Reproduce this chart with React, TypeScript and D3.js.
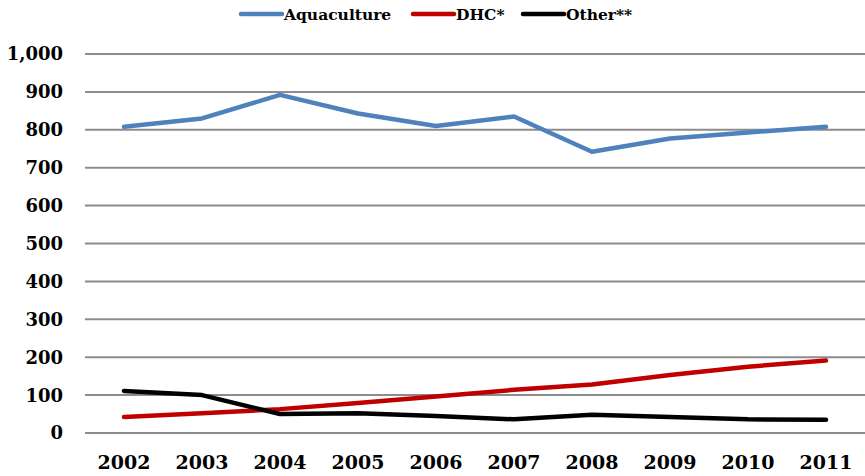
import React from "react";
import * as d3 from "d3";

const years = ["2002","2003","2004","2005","2006","2007","2008","2009","2010","2011"];
const aquaculture = [808, 830, 892, 843, 810, 835, 742, 777, 793, 808];
const dhc = [42, 52, 63, 79, 96, 114, 128, 153, 175, 191];
const other = [111, 100, 50, 52, 45, 36, 48, 42, 36, 35];
const yTicks = [0, 100, 200, 300, 400, 500, 600, 700, 800, 900, 1000];

const seriesNames = ["Aquaculture", "DHC*", "Other**"];
const seriesColors = ["#4F81BD", "#C00000", "#000000"];

const W = 865, H = 476;
const left = 85, right = 865, top = 54, bottom = 433;
const fontFamily = "'DejaVu Serif', serif";

export default function App() {
  const x = d3.scaleBand().domain(years).range([left, right]);
  const y = d3.scaleLinear().domain([0, 1000]).range([bottom, top]);
  const fmt = d3.format(",");
  const line = d3.line<number>()
    .x((_, i) => (x(years[i]) as number) + x.bandwidth() / 2)
    .y((d) => y(d));
  const data = [aquaculture, dhc, other];
  const legendX = [241, 413, 523];

  return (
    <svg width={W} height={H} style={{ position: "absolute", left: 0, top: 0, background: "#fff" }}>
      {yTicks.map((t) => (
        <g key={t}>
          <line x1={left} x2={right} y1={y(t)} y2={y(t)} stroke="#8c8c8c" strokeWidth={2} />
          <text x={63} y={y(t)} dy="0.36em" textAnchor="end" fontFamily={fontFamily}
            fontWeight="bold" fontSize={18} fill="#000">{fmt(t)}</text>
        </g>
      ))}
      {years.map((yr) => (
        <text key={yr} x={(x(yr) as number) + x.bandwidth() / 2} y={462} dy="0.36em"
          textAnchor="middle" fontFamily={fontFamily} fontWeight="bold" fontSize={19} fill="#000">{yr}</text>
      ))}
      {data.map((d, i) => (
        <path key={i} d={line(d) || ""} fill="none" stroke={seriesColors[i]} strokeWidth={4.5}
          strokeLinejoin="round" strokeLinecap="round" />
      ))}
      {seriesNames.map((n, i) => (
        <g key={n}>
          <line x1={legendX[i]} x2={legendX[i] + 41} y1={14} y2={14} stroke={seriesColors[i]}
            strokeWidth={4.5} strokeLinecap="round" />
          <text x={legendX[i] + 43} y={14} dy="0.36em" fontFamily={fontFamily} fontWeight="bold"
            fontSize={15.5} fill="#000">{n}</text>
        </g>
      ))}
    </svg>
  );
}
